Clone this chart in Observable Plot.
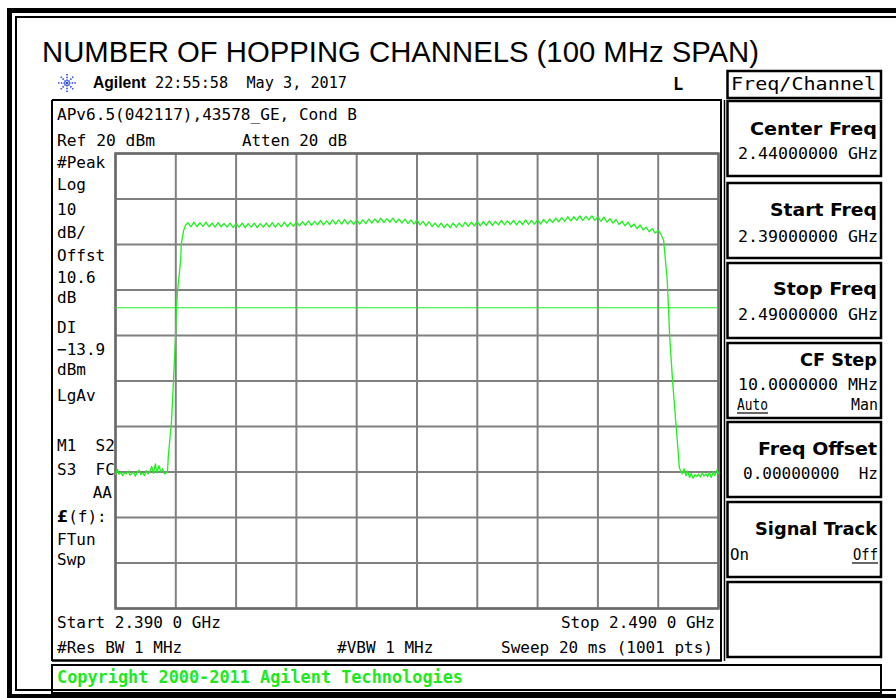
<!DOCTYPE html>
<html>
<head>
<meta charset="utf-8">
<script src="https://cdn.jsdelivr.net/npm/d3@7"></script>
<script src="https://cdn.jsdelivr.net/npm/@observablehq/plot@0.6"></script>
<style>
  html, body { margin: 0; padding: 0; background: #fff; }
  #chart { position: relative; width: 896px; height: 698px; overflow: hidden; }
  #chart svg { display: block; }
</style>
</head>
<body>
<div id="chart"></div>
<script>
// ---- Data ----
const xGridMHz = [2390, 2400, 2410, 2420, 2430, 2440, 2450, 2460, 2470, 2480, 2490];
const yGridDbm = [20, 10, 0, -10, -20, -30, -40, -50, -60, -70, -80];
const displayLineDbm = [-13.9];

const freqMHz = [
  2390, 2390.3, 2390.6, 2390.9, 2391.2, 2391.5, 2391.8, 2392.1, 2392.4, 2392.7,
  2393.0, 2393.3, 2393.6, 2393.9, 2394.2, 2394.5, 2394.8, 2395.1, 2395.4, 2395.7,
  2396.0, 2396.3, 2396.6, 2396.9, 2397.2, 2397.5, 2397.8, 2398.1, 2398.4, 2398.6,
  2398.8, 2399.3, 2399.6, 2399.95, 2400.1, 2400.3, 2400.8, 2400.9, 2401.3, 2401.6,
  2402, 2402.5, 2403, 2403.5, 2404, 2404.5, 2405, 2405.5, 2406, 2406.5,
  2407, 2407.5, 2408, 2408.5, 2409, 2409.5, 2410, 2410.5, 2411, 2411.5,
  2412, 2412.5, 2413, 2413.5, 2414, 2414.5, 2415, 2415.5, 2416, 2416.5,
  2417, 2417.5, 2418, 2418.5, 2419, 2419.5, 2420, 2420.5, 2421, 2421.5,
  2422, 2422.5, 2423, 2423.5, 2424, 2424.5, 2425, 2425.5, 2426, 2426.5,
  2427, 2427.5, 2428, 2428.5, 2429, 2429.5, 2430, 2430.5, 2431, 2431.5,
  2432, 2432.5, 2433, 2433.5, 2434, 2434.5, 2435, 2435.5, 2436, 2436.5,
  2437, 2437.5, 2438, 2438.5, 2439, 2439.5, 2440, 2440.5, 2441, 2441.5,
  2442, 2442.5, 2443, 2443.5, 2444, 2444.5, 2445, 2445.5, 2446, 2446.5,
  2447, 2447.5, 2448, 2448.5, 2449, 2449.5, 2450, 2450.5, 2451, 2451.5,
  2452, 2452.5, 2453, 2453.5, 2454, 2454.5, 2455, 2455.5, 2456, 2456.5,
  2457, 2457.5, 2458, 2458.5, 2459, 2459.5, 2460, 2460.5, 2461, 2461.5,
  2462, 2462.5, 2463, 2463.5, 2464, 2464.5, 2465, 2465.5, 2466, 2466.5,
  2467, 2467.5, 2468, 2468.5, 2469, 2469.5, 2470, 2470.5, 2471, 2471.5,
  2472, 2472.5, 2473, 2473.5, 2474, 2474.5, 2475, 2475.5, 2476, 2476.5,
  2477, 2477.5, 2478, 2478.5, 2479, 2479.5, 2480,
  2480.4, 2480.9, 2481.2, 2481.5, 2481.7, 2481.9, 2482.4, 2482.9, 2483.2, 2483.5, 2483.7,
  2484.0, 2484.3, 2484.6, 2484.9, 2485.2, 2485.5, 2485.8, 2486.1, 2486.4, 2486.7,
  2487.0, 2487.3, 2487.6, 2487.9, 2488.2, 2488.5, 2488.8, 2489.1, 2489.4, 2489.7, 2490
];
const levelDbm = [
  -50.6, -49.4, -50.5, -50.1, -50.8, -50.2, -50.4, -49.8, -50.7, -50.3,
  -50.1, -50.9, -50.0, -49.6, -50.6, -50.2, -50.8, -49.7, -50.4, -49.9,
  -48.8, -50.3, -48.2, -50.2, -48.6, -50.0, -49.3, -50.4, -50.2, -50.1,
  -45.9, -38.7, -30.3, -20.2, -13.8, -10.1, -3.5, 0.0, 3.1, 4.2,
  4.8, 3.9, 4.9, 3.9, 4.8, 4.0, 4.9, 3.9, 4.7, 3.8,
  4.8, 3.9, 4.6, 3.8, 4.7, 3.7, 4.6, 3.8, 4.7, 3.7,
  4.6, 3.8, 4.7, 3.7, 4.6, 3.8, 4.7, 3.8, 4.8, 3.8,
  4.7, 3.9, 4.9, 3.9, 4.8, 4.0, 5.0, 4.1, 5.0, 4.2,
  5.2, 4.2, 5.1, 4.3, 5.3, 4.3, 5.2, 4.4, 5.4, 4.5,
  5.4, 4.5, 5.5, 4.5, 5.3, 4.4, 5.4, 4.5, 5.4, 4.6,
  5.6, 4.7, 5.6, 4.8, 5.8, 4.8, 5.7, 4.9, 5.8, 4.8,
  5.6, 4.7, 5.6, 4.6, 5.4, 4.5, 5.4, 4.3, 5.1, 4.1,
  5.0, 3.9, 4.7, 3.8, 4.7, 3.7, 4.5, 3.7, 4.7, 3.8,
  4.7, 3.9, 4.9, 4.0, 4.9, 4.1, 5.1, 4.1, 5.0, 4.2,
  5.2, 4.2, 5.1, 4.3, 5.3, 4.3, 5.2, 4.4, 5.3, 4.3,
  5.2, 4.4, 5.4, 4.4, 5.3, 4.5, 5.4, 4.5, 5.5, 4.7,
  5.6, 4.8, 5.8, 5.0, 5.9, 5.1, 6.1, 5.2, 6.1, 5.3,
  6.3, 5.3, 6.2, 5.4, 6.3, 5.3, 6.1, 5.1, 6.0, 4.9,
  5.7, 4.7, 5.5, 4.4, 5.1, 4.1, 4.9, 3.8, 4.5, 3.5,
  4.3, 3.2, 3.8, 2.8, 3.5, 2.5, 3.1,
  2.4, 0.9, -3.5, -7.9, -13.8, -20.2, -30.3, -38.7, -43.7, -49.0, -49.7,
  -50.4, -49.3, -50.8, -49.8, -51.2, -50.3, -51.4, -50.6, -51.0, -50.5,
  -51.1, -50.2, -50.9, -50.4, -51.0, -50.1, -51.2, -50.0, -50.8, -49.6, -50.3
];

const trace = freqMHz.map((f, i) => ({ f, dbm: levelDbm[i] }));

// ---- Chart ----
const GREEN = "#22ee22";
const svg = Plot.plot({
  width: 896,
  height: 698,
  marginLeft: 115,
  marginRight: 178,
  marginTop: 153,
  marginBottom: 90,
  style: { background: "#fff", overflow: "visible" },
  x: { domain: [2390, 2490], axis: null },
  y: { domain: [-80, 20], axis: null },
  marks: [
    Plot.ruleX(xGridMHz, { stroke: "#808080", strokeWidth: 2, strokeOpacity: 1 }),
    Plot.ruleY(yGridDbm, { stroke: "#808080", strokeWidth: 2, strokeOpacity: 1 }),
    Plot.frame({ stroke: "#6a6a6a", strokeWidth: 2.5 }),
    Plot.ruleY(displayLineDbm, { stroke: GREEN, strokeWidth: 1.2 }),
    Plot.line(trace, { x: "f", y: "dbm", stroke: GREEN, strokeWidth: 1.3 })
  ]
});
document.getElementById("chart").appendChild(svg);

// ---- Instrument decorations ----
const MONO = "DejaVu Sans Mono";
const SANS = "DejaVu Sans";
const ARIAL = "Liberation Sans, Arial";
const g = d3.select(svg).append("g");

function box(x, y, w, h, sw) {
  g.append("rect").attr("x", x).attr("y", y).attr("width", w).attr("height", h)
    .attr("fill", "none").attr("stroke", "#000").attr("stroke-width", sw);
}
function line(x1, y1, x2, y2, sw, c) {
  g.append("line").attr("x1", x1).attr("y1", y1).attr("x2", x2).attr("y2", y2)
    .attr("stroke", c || "#000").attr("stroke-width", sw);
}
function txt(x, y, s, o = {}) {
  const t = g.append("text").attr("x", x).attr("y", y)
    .attr("text-anchor", o.anchor || "start")
    .attr("font-family", o.font || MONO)
    .attr("font-size", o.size || 16)
    .attr("font-weight", o.weight || "normal")
    .attr("fill", o.fill || "#000")
    .style("white-space", "pre");
  if (o.len) t.attr("textLength", o.len).attr("lengthAdjust", "spacingAndGlyphs");
  t.text(s);
  return t;
}

// outer frames
box(9.5, 10.5, 900, 686, 5);
box(16, 17, 900, 673, 2);

// title
txt(42, 62, "NUMBER OF HOPPING CHANNELS (100 MHz SPAN)", { font: ARIAL, size: 29, len: 717 });

// Agilent logo (spark)
const cx = 67, cy = 83;
for (let k = 0; k < 8; k++) {
  const a = k * Math.PI / 4;
  g.append("line")
    .attr("x1", cx + 2 * Math.cos(a)).attr("y1", cy + 2 * Math.sin(a))
    .attr("x2", cx + 9 * Math.cos(a)).attr("y2", cy + 9 * Math.sin(a))
    .attr("stroke", "#2a46e0").attr("stroke-width", 1.6).attr("stroke-dasharray", "1.5 1.2");
}
g.append("circle").attr("cx", cx).attr("cy", cy).attr("r", 1.5).attr("fill", "#2a46e0");

txt(93, 88, "Agilent", { font: ARIAL, size: 16, weight: "bold", len: 53 });
txt(155, 88, "22:55:58  May 3, 2017", { size: 15, len: 192 });
txt(673, 90, "L", { size: 17, weight: "bold" });

// screen box
line(52, 100, 722, 100, 2);
line(52, 100, 52, 661, 2);
line(52, 660.5, 722, 660.5, 2.5);
line(721, 100, 721, 661, 2);
line(724.5, 100, 724.5, 661, 1.5);

// copyright box
box(52, 665, 829, 28, 2);
txt(57, 683, "Copyright 2000-2011 Agilent Technologies", { size: 17, weight: "bold", fill: "#1de91d", len: 406 });

// screen header texts
txt(57, 120, "APv6.5(042117),43578_GE, Cond B", { len: 300 });
txt(57, 146, "Ref 20 dBm", { len: 98 });
txt(242, 146, "Atten 20 dB", { len: 105 });

// left annotation column
const leftLabels = [
  ["#Peak", 168], ["Log", 190], ["10", 215], ["dB/", 238], ["Offst", 261],
  ["10.6", 283], ["dB", 303], ["DI", 333], ["\u221213.9", 355], ["dBm", 375],
  ["LgAv", 401], ["M1  S2", 451], ["S3  FC", 475]
];
leftLabels.forEach(([s, y]) => txt(57, y, s));
txt(112, 498, "AA", { anchor: "end" });
const lf = txt(57, 522, "");
lf.append("tspan").attr("font-weight", "bold").attr("font-family", SANS).text("\u00a3");
lf.append("tspan").text("(f):");
txt(57, 545, "FTun");
txt(57, 565, "Swp");

// bottom texts
txt(57, 628, "Start 2.390 0 GHz");
txt(715, 628, "Stop 2.490 0 GHz", { anchor: "end" });
txt(57, 653, "#Res BW 1 MHz");
txt(337, 653, "#VBW 1 MHz");
txt(713, 653, "Sweep 20 ms (1001 pts)", { anchor: "end" });

// softkey header
box(727.5, 71, 153.5, 27, 2.5);
txt(876, 90, "Freq/Channel", { size: 18, len: 145, anchor: "end" });

// softkeys
const keyTops = [101, 183, 263, 343, 422, 502, 582];
keyTops.forEach(t => box(727.5, t, 153.5, 75, 2.5));
const KX = 877;
txt(KX, 135, "Center Freq", { font: SANS, weight: "bold", size: 18, anchor: "end", len: 127 });
txt(KX + 1, 159, "2.44000000 GHz", { anchor: "end", len: 140 });
txt(KX, 216, "Start Freq", { font: SANS, weight: "bold", size: 18, anchor: "end", len: 107 });
txt(KX + 1, 242, "2.39000000 GHz", { anchor: "end", len: 140 });
txt(KX, 295, "Stop Freq", { font: SANS, weight: "bold", size: 18, anchor: "end", len: 104 });
txt(KX + 1, 320, "2.49000000 GHz", { anchor: "end", len: 140 });
txt(KX, 366, "CF Step", { font: SANS, weight: "bold", size: 18, anchor: "end", len: 77 });
txt(KX + 1, 390, "10.0000000 MHz", { anchor: "end", len: 140 });
txt(737, 410, "Auto", { size: 15, len: 31 });
line(737, 413, 768, 413, 1.2);
txt(KX + 1, 410, "Man", { size: 15, anchor: "end", len: 27 });
txt(KX, 455, "Freq Offset", { font: SANS, weight: "bold", size: 18, anchor: "end", len: 119 });
txt(KX + 1, 479, "0.00000000  Hz", { anchor: "end", len: 135 });
txt(KX, 535, "Signal Track", { font: SANS, weight: "bold", size: 18, anchor: "end", len: 122 });
txt(730, 560, "On", { size: 15, len: 19 });
txt(KX + 1, 560, "Off", { size: 15, anchor: "end", len: 25 });
line(852, 563, 878, 563, 1.2);
</script>
</body>
</html>
